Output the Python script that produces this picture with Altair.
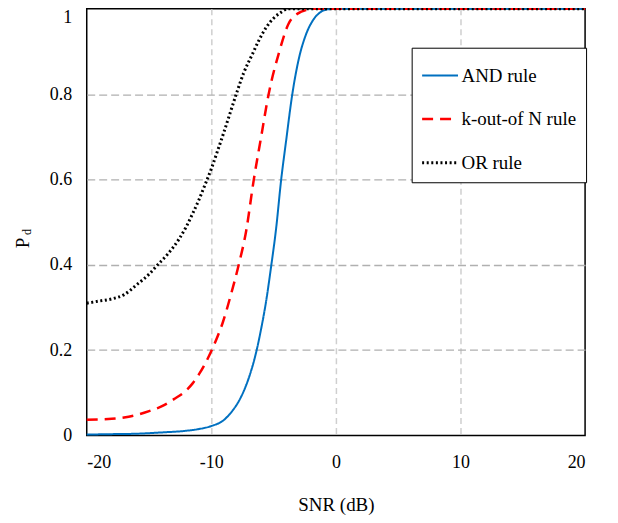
import altair as alt
import pandas as pd

# ---- data ----
series_names = ["AND rule", "k-out-of N rule", "OR rule"]

and_snr = [-20, -18, -16, -14, -12, -11, -10, -9, -8.3, -7.8, -7.2, -6.8, -6.4, -6.0, -5.6,
           -5.2, -4.8, -4.4, -4.0, -3.5, -3.0, -2.4, -1.8, -1.2, -0.6, 0, 5, 10, 15, 20]
and_pd = [0.002, 0.003, 0.004, 0.007, 0.011, 0.015, 0.022, 0.036, 0.058, 0.08, 0.118, 0.152,
          0.195, 0.25, 0.315, 0.396, 0.485, 0.598, 0.69, 0.80, 0.88, 0.94, 0.975, 0.993, 0.999,
          1.0, 1.0, 1.0, 1.0, 1.0]

kn_snr = [-20, -18, -17, -16, -15, -14, -13, -12, -11.5, -11, -10.5, -10, -9.5, -9.1, -8.4,
          -7.8, -7.2, -6.6, -6.0, -5.4, -4.6, -3.8, -3.0, -2.4, -1.8, 0, 5, 10, 15, 20]
kn_pd = [0.037, 0.039, 0.042, 0.048, 0.057, 0.068, 0.085, 0.106, 0.122, 0.143, 0.168, 0.198,
         0.232, 0.263, 0.333, 0.40, 0.48, 0.598, 0.70, 0.80, 0.894, 0.965, 0.99, 0.997, 1.0,
         1.0, 1.0, 1.0, 1.0, 1.0]

or_snr = [-20, -19, -18, -17, -16, -15, -14.3, -13.5, -12.6, -12, -11.5, -11, -10.5, -10, -9.5,
          -9, -8.5, -8, -7.4, -6.7, -6.2, -5.6, -5.0, -4.5, -3.8, 0, 5, 10, 15, 20]
or_pd = [0.31, 0.315, 0.32, 0.33, 0.353, 0.378, 0.40, 0.425, 0.46, 0.49, 0.52, 0.552, 0.588, 0.625,
         0.667, 0.71, 0.755, 0.80, 0.85, 0.894, 0.925, 0.956, 0.978, 0.99, 1.0, 1.0, 1.0, 1.0, 1.0, 1.0]

x_ticks = [-20, -10, 0, 10, 20]
y_ticks = [0, 0.2, 0.4, 0.6, 0.8, 1.0]

colors = ["#0070C0", "#FF0000", "#000000"]
dashes = [[1, 0], [11, 7], [2, 2.6]]
widths = [2, 3, 2.3]

rows = []
for name, xs, ys in zip(series_names, [and_snr, kn_snr, or_snr], [and_pd, kn_pd, or_pd]):
    for xv, yv in zip(xs, ys):
        rows.append({"series": name, "snr": xv, "pd": yv})
df = pd.DataFrame(rows)

FONT = "Times New Roman, Liberation Serif, DejaVu Serif, serif"

legend = alt.Legend(
    title=None, orient="none", legendX=326, legendY=39,
    labelFont=FONT, labelFontSize=19, labelColor="black",
    symbolType="stroke", symbolSize=1296, labelOffset=2,
    strokeColor="black", fillColor="white", padding=9, rowPadding=14,
    cornerRadius=0,
)

lines = alt.Chart(df).mark_line(interpolate="monotone").encode(
    x=alt.X("snr:Q", title="SNR (dB)",
            scale=alt.Scale(domain=[-20, 20], nice=False),
            axis=alt.Axis(values=x_ticks, labelExpr="'' + datum.value", labelPadding=18, titlePadding=24,
                          gridColor="#CFCFCF", gridDash=[6, 4], gridWidth=1.5,
                          gridOpacity=alt.condition("datum.value == -20 || datum.value == 20",
                                                    alt.value(0), alt.value(1)))),
    y=alt.Y("pd:Q", title=None,
            scale=alt.Scale(domain=[0, 1], nice=False),
            axis=alt.Axis(values=y_ticks, labelExpr="'' + datum.value", labelPadding=15,
                          labelBaseline=alt.condition("datum.value == 1",
                                                      alt.value("top"), alt.value("middle")),
                          gridColor="#B0B0B0", gridDash=[8, 4], gridWidth=1.3,
                          gridOpacity=alt.condition("datum.value == 0 || datum.value == 1",
                                                    alt.value(0), alt.value(1)))),
    color=alt.Color("series:N", scale=alt.Scale(domain=series_names, range=colors), legend=legend),
    strokeDash=alt.StrokeDash("series:N", scale=alt.Scale(domain=series_names, range=dashes), legend=legend),
    strokeWidth=alt.StrokeWidth("series:N", scale=alt.Scale(domain=series_names, range=widths), legend=legend),
)

ytitle_main = alt.Chart(pd.DataFrame({"t": ["P"]})).mark_text(
    angle=270, font=FONT, fontSize=19, color="black", align="center", baseline="middle"
).encode(x=alt.value(-64), y=alt.value(235), text="t:N")

ytitle_sub = alt.Chart(pd.DataFrame({"t": ["d"]})).mark_text(
    angle=270, font=FONT, fontSize=12, color="black", align="center", baseline="middle"
).encode(x=alt.value(-60), y=alt.value(224), text="t:N")

chart = alt.layer(lines, ytitle_main, ytitle_sub).properties(
    width=500, height=428,
    padding={"left": 79, "top": 0, "right": 25, "bottom": 80},
    autosize=alt.AutoSizeParams(type="none"),
).configure_view(
    stroke="black", strokeWidth=1.5
).configure_axis(
    labelFont=FONT, labelFontSize=18, labelColor="black",
    titleFont=FONT, titleFontSize=19, titleColor="black", titleFontWeight="normal",
    domain=False, ticks=False,
)

chart.save("out.html", embed_options={"renderer": "svg", "actions": False})
